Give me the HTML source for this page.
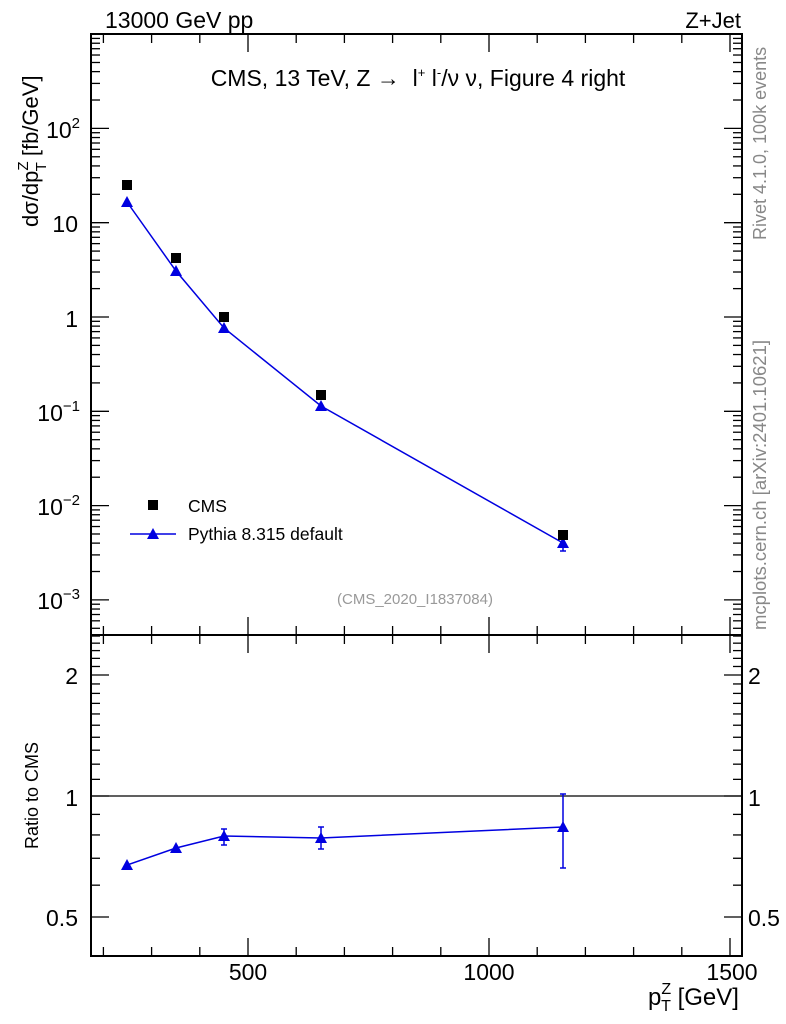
<!DOCTYPE html>
<html><head><meta charset="utf-8"><style>
html,body{margin:0;padding:0;background:#fff}
svg{display:block;font-family:"Liberation Sans",sans-serif}
</style></head><body>
<svg id="s" width="786" height="1024" viewBox="0 0 786 1024" xmlns="http://www.w3.org/2000/svg">
<g id="ticks" stroke="#000" stroke-width="1.3" fill="none"></g>
<rect x="91" y="34" width="651" height="601" fill="none" stroke="#000" stroke-width="2"/>
<rect x="91" y="635" width="651" height="321" fill="none" stroke="#000" stroke-width="2"/>
<line x1="91" y1="796" x2="742" y2="796" stroke="#000" stroke-width="1.3"/>
<text x="105" y="28" font-size="23">13000 GeV pp</text>
<text x="741" y="28" font-size="22" text-anchor="end">Z+Jet</text>
<text x="418" y="86" font-size="23" text-anchor="middle">CMS, 13 TeV, Z → &#160;l<tspan font-size="13" dy="-9">+</tspan><tspan dy="9"> l</tspan><tspan font-size="13" dy="-9">-</tspan><tspan dy="9">/ν ν, Figure 4 right</tspan></text>
<text x="415" y="604" font-size="15" fill="#999" text-anchor="middle">(CMS_2020_I1837084)</text>
<text transform="translate(766,240) rotate(-90)" font-size="18" fill="#888">Rivet 4.1.0,  100k events</text>
<text transform="translate(766,630) rotate(-90)" font-size="18.5" fill="#888">mcplots.cern.ch [arXiv:2401.10621]</text>
<text transform="translate(38,227) rotate(-90)" font-size="22">dσ/dp<tspan font-size="15" dy="-10">Z</tspan><tspan font-size="15" dy="18" dx="-10">T</tspan><tspan dy="-8"> [fb/GeV]</tspan></text>
<text transform="translate(38,849) rotate(-90)" font-size="18">Ratio to CMS</text>
<text x="648" y="1005" font-size="24">p<tspan font-size="16" dy="-11">Z</tspan><tspan font-size="16" dy="17" dx="-10">T</tspan><tspan dy="-6"> [GeV]</tspan></text>
<g font-size="23" text-anchor="end">
<text x="80" y="138">10<tspan font-size="15" dy="-10">2</tspan></text>
<text x="78" y="232">10</text>
<text x="78" y="327">1</text>
<text x="80" y="421">10<tspan font-size="15" dy="-10">−1</tspan></text>
<text x="80" y="515">10<tspan font-size="15" dy="-10">−2</tspan></text>
<text x="80" y="609">10<tspan font-size="15" dy="-10">−3</tspan></text>
<text x="78" y="684">2</text>
<text x="78" y="806">1</text>
<text x="78" y="926">0.5</text>
</g>
<g font-size="23">
<text x="748" y="684">2</text>
<text x="748" y="806">1</text>
<text x="748" y="926">0.5</text>
</g>
<g font-size="23" text-anchor="middle">
<text x="248" y="980">500</text>
<text x="489" y="980">1000</text>
<text x="732" y="980">1500</text>
</g>
<g stroke="#0000e0" stroke-width="1.5" fill="none">
<polyline points="127,202 176,271 224,328 321,406 563,543"/>
<line x1="563" y1="533" x2="563" y2="551"/><line x1="560" y1="533" x2="566" y2="533"/><line x1="560" y1="551" x2="566" y2="551"/>
<polyline points="127,865 176,848 224,836 321,838 563,827"/>
<line x1="224" y1="829" x2="224" y2="845"/><line x1="221" y1="829" x2="227" y2="829"/><line x1="221" y1="845" x2="227" y2="845"/>
<line x1="321" y1="827" x2="321" y2="849"/><line x1="318" y1="827" x2="324" y2="827"/><line x1="318" y1="849" x2="324" y2="849"/>
<line x1="563" y1="794" x2="563" y2="868"/><line x1="560" y1="794" x2="566" y2="794"/><line x1="560" y1="868" x2="566" y2="868"/>
<line x1="130" y1="534" x2="176" y2="534"/>
</g>
<g fill="#0000e0" id="tri"></g>
<g fill="#000">
<rect x="122" y="180" width="10" height="10"/><rect x="171" y="253" width="10" height="10"/><rect x="219" y="312" width="10" height="10"/><rect x="316" y="390" width="10" height="10"/><rect x="558" y="530" width="10" height="10"/>
<rect x="148" y="500" width="10" height="10"/>
</g>
<text x="188" y="512" font-size="17.5">CMS</text>
<text x="188" y="540" font-size="17.5">Pythia 8.315 default</text>
</svg>
<script>
var T=document.getElementById('ticks'),s='';
function L(a,b,c,d){s+='<line x1="'+a+'" y1="'+b+'" x2="'+c+'" y2="'+d+'"/>';}
var X=function(v){return 248+(v-500)*0.482;};
for(var v=200;v<=1500;v+=100){var x=X(v),m=(v%500==0);var l=m?18:9;
L(x,34,x,34+l);L(x,635,x,635-l);L(x,635,x,635+l);L(x,956,x,956-l);}
for(var d=-4;d<=3;d++)for(var k=1;k<10;k++){var y=317-94.3*(d+Math.log10(k));if(y<34||y>635)continue;var l=k==1?18:9;L(91,y,91+l,y);L(742,y,742-l,y);}
var R=[0.4,0.5,0.6,0.7,0.8,0.9,1,1.1,1.2,1.3,1.4,1.5,1.6,1.7,1.8,1.9,2,2.1,2.2,2.3,2.4,2.5];
R.forEach(function(r){var y=796-121*Math.log2(r);if(y<635||y>956)return;var l=(r==0.5||r==1||r==2)?18:9;L(91,y,91+l,y);L(742,y,742-l,y);});
T.innerHTML=s;
var P=[[127,202],[176,271],[224,328],[321,406],[563,543],[127,865],[176,848],[224,836],[321,838],[563,827],[153,534]],t='';
P.forEach(function(p){t+='<polygon points="'+p[0]+','+(p[1]-6)+' '+(p[0]-6)+','+(p[1]+5)+' '+(p[0]+6)+','+(p[1]+5)+'"/>';});
document.getElementById('tri').innerHTML=t;
</script>
</body></html>
